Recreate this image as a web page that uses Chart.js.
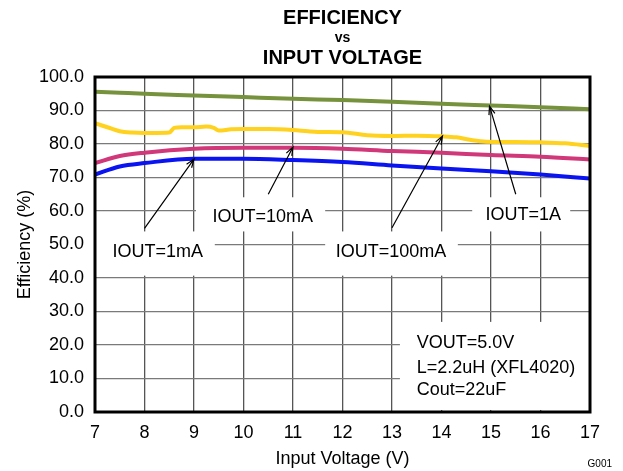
<!DOCTYPE html>
<html>
<head>
<meta charset="utf-8">
<script src="https://cdn.jsdelivr.net/npm/chart.js@4"></script>
<style>
  body { margin: 0; background: #fff; }
  #wrap { width: 623px; height: 471px; }
</style>
</head>
<body>
<div id="wrap"><canvas id="effChart" width="623" height="471"></canvas></div>
<script>
// input voltage (V)
var vin = [7, 7.5, 8, 9, 10, 11, 12, 13, 14, 15, 16, 17];
// IOUT=100mA has small steps, so it is read on a finer grid
var vin100mA = [7, 7.25, 7.5, 7.75, 8, 8.25, 8.5, 8.6, 8.75, 9, 9.25, 9.4, 9.5, 9.75, 10, 10.5,
                11, 11.3, 11.5, 12, 12.5, 13, 13.5, 14, 14.3, 14.6, 14.9, 15.5, 16, 16.5, 17];

// efficiency (%)
var eff1A    = [95.6, 95.3, 95.0, 94.5, 94.0, 93.5, 93.1, 92.6, 92.0, 91.5, 91.0, 90.4];
var eff10mA  = [74.3, 76.4, 77.4, 78.6, 78.9, 78.9, 78.6, 77.9, 77.4, 76.7, 76.2, 75.4];
var eff1mA   = [70.9, 73.3, 74.3, 75.6, 75.6, 75.2, 74.6, 73.6, 72.7, 71.9, 70.9, 69.7];
var eff100mA = [86.2, 85.0, 83.8, 83.4, 83.3, 83.3, 83.4, 84.8, 85.0, 85.0, 85.2, 84.8, 84.0, 84.4, 84.5, 84.5,
                84.2, 83.8, 83.6, 83.5, 82.6, 82.4, 82.5, 82.3, 82.0, 81.2, 80.7, 80.6, 80.5, 80.2, 79.4];

var xTicks = [7, 8, 9, 10, 11, 12, 13, 14, 15, 16, 17];
var yTicks = [0, 10, 20, 30, 40, 50, 60, 70, 80, 90, 100];

function pts(xs, ys) {
    return xs.map(function (x, i) { return { x: x, y: ys[i] }; });
}

// label boxes and arrows, in data units
var notes = [
    { text: 'IOUT=1mA',   tx: 8.27,  ty: 47.9, box: [7.0, 9.42, 53.9, 40.7],   from: [8.0, 54.8],  to: [9.0, 75.5] },
    { text: 'IOUT=10mA',  tx: 10.39, ty: 58.1, box: [9.04, 11.65, 64.1, 53.9], from: [10.5, 65.0], to: [11.0, 79.1] },
    { text: 'IOUT=100mA', tx: 12.98, ty: 47.9, box: [11.65, 14.33, 53.9, 40.7], from: [13.0, 55.0], to: [14.02, 82.4] },
    { text: 'IOUT=1A',    tx: 15.65, ty: 58.7, box: [14.62, 16.6, 64.1, 53.9], from: [15.5, 65.0], to: [14.97, 91.3] }
];
var condLines = ['VOUT=5.0V', 'L=2.2uH (XFL4020)', 'Cout=22uF'];

var FONT = '"Liberation Sans", Arial, sans-serif';

var notesPlugin = {
    id: 'notes',
    beforeDatasetsDraw: function (chart) {
        var c = chart.ctx, xs = chart.scales.x, ys = chart.scales.y;
        c.save();
        c.fillStyle = '#fff';
        notes.forEach(function (n) {
            var x0 = xs.getPixelForValue(n.box[0]), x1 = xs.getPixelForValue(n.box[1]);
            var y0 = ys.getPixelForValue(n.box[2]), y1 = ys.getPixelForValue(n.box[3]);
            c.fillRect(x0, y0, x1 - x0, y1 - y0);
        });
        var bx0 = xs.getPixelForValue(13.16), bx1 = xs.getPixelForValue(17);
        var by0 = ys.getPixelForValue(26.9), by1 = ys.getPixelForValue(0.6);
        c.fillRect(bx0, by0, bx1 - bx0, by1 - by0);
        c.restore();
    },
    afterDatasetsDraw: function (chart) {
        var c = chart.ctx, xs = chart.scales.x, ys = chart.scales.y, a = chart.chartArea;
        c.save();
        // arrows
        c.strokeStyle = '#000';
        c.lineWidth = 1.2;
        notes.forEach(function (n) {
            var fx = xs.getPixelForValue(n.from[0]), fy = ys.getPixelForValue(n.from[1]);
            var px = xs.getPixelForValue(n.to[0]), py = ys.getPixelForValue(n.to[1]);
            var ang = Math.atan2(py - fy, px - fx);
            c.beginPath();
            c.moveTo(fx, fy);
            c.lineTo(px, py);
            c.moveTo(px - 9 * Math.cos(ang - 0.35), py - 9 * Math.sin(ang - 0.35));
            c.lineTo(px, py);
            c.lineTo(px - 9 * Math.cos(ang + 0.35), py - 9 * Math.sin(ang + 0.35));
            c.stroke();
        });
        // labels
        c.fillStyle = '#000';
        c.font = '18px ' + FONT;
        c.textAlign = 'center';
        c.textBaseline = 'middle';
        notes.forEach(function (n) {
            c.fillText(n.text, xs.getPixelForValue(n.tx), ys.getPixelForValue(n.ty));
        });
        c.textAlign = 'left';
        var condY = [20.7, 13.2, 6.6];
        condLines.forEach(function (t, i) {
            c.fillText(t, xs.getPixelForValue(13.5), ys.getPixelForValue(condY[i]));
        });
        // frame
        c.lineWidth = 3;
        c.strokeRect(a.left, a.top, a.right - a.left, a.bottom - a.top);
        // title
        c.textAlign = 'center';
        c.font = 'bold 20px ' + FONT;
        var mid = (a.left + a.right) / 2;
        c.fillText('EFFICIENCY', mid, 18);
        c.font = 'bold 14px ' + FONT;
        c.fillText('vs', mid, 38);
        c.font = 'bold 20px ' + FONT;
        c.fillText('INPUT VOLTAGE', mid, 58);
        c.font = '10px ' + FONT;
        c.textAlign = 'right';
        c.fillText('G001', 612, 464);
        c.restore();
    }
};

function line(data, color) {
    return {
        data: data,
        borderColor: color,
        borderWidth: 4,
        pointRadius: 0,
        fill: false,
        cubicInterpolationMode: 'monotone'
    };
}

var ctx = document.getElementById('effChart').getContext('2d');
var effChart = new Chart(ctx, {
    type: 'line',
    data: {
        datasets: [
            line(pts(vin, eff1A), '#76923C'),
            line(pts(vin100mA, eff100mA), '#FFD21F'),
            line(pts(vin, eff10mA), '#D0387A'),
            line(pts(vin, eff1mA), '#0A14F0')
        ]
    },
    options: {
        responsive: false,
        animation: false,
        layout: { padding: { top: 77, right: 33, bottom: 0, left: 0 } },
        plugins: {
            legend: { display: false },
            tooltip: { enabled: false }
        },
        scales: {
            x: {
                type: 'linear',
                min: 7,
                max: 17,
                afterBuildTicks: function (s) { s.ticks = xTicks.map(function (v) { return { value: v }; }); },
                afterFit: function (s) { s.height = 59; },
                ticks: { color: '#000', font: { size: 18, family: FONT }, padding: 10, maxRotation: 0 },
                grid: { color: '#555', lineWidth: 1.3, drawTicks: false },
                border: { display: false },
                title: { display: true, text: 'Input Voltage (V)', color: '#000',
                         font: { size: 18, family: FONT }, padding: { top: 0, bottom: 1 } }
            },
            y: {
                min: 0,
                max: 100,
                afterBuildTicks: function (s) { s.ticks = yTicks.map(function (v) { return { value: v }; }); },
                afterFit: function (s) { s.width = 95; },
                ticks: { color: '#000', font: { size: 18, family: FONT }, padding: 11,
                         callback: function (v) { return v.toFixed(1); } },
                grid: { color: '#7a7a7a', lineWidth: 1.3, drawTicks: false },
                border: { display: false },
                title: { display: true, text: 'Efficiency (%)', color: '#000',
                         font: { size: 18, family: FONT }, padding: { top: 14, bottom: 0 } }
            }
        }
    },
    plugins: [notesPlugin]
});
</script>
</body>
</html>
